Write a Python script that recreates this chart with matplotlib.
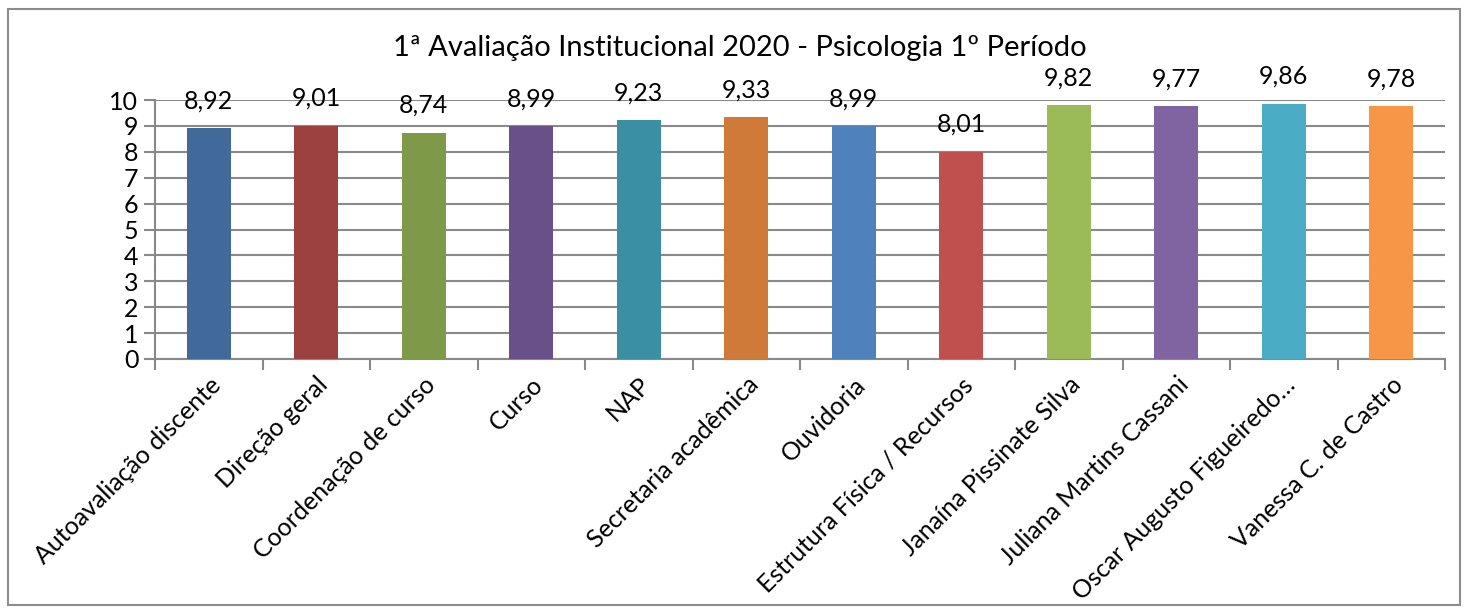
import matplotlib
matplotlib.use('Agg')
import matplotlib.pyplot as plt
from matplotlib.patches import Rectangle

categories = [
    'Autoavaliação discente', 'Direção geral', 'Coordenação de curso', 'Curso',
    'NAP', 'Secretaria acadêmica', 'Ouvidoria', 'Estrutura Física / Recursos',
    'Janaína Pissinate Silva', 'Juliana Martins Cassani',
    'Oscar Augusto Figueiredo…', 'Vanessa C. de Castro',
]
values = [8.92, 9.01, 8.74, 8.99, 9.23, 9.33, 8.99, 8.01, 9.82, 9.77, 9.86, 9.78]
colors = ['#416A9B', '#9D4140', '#7E9A49', '#6A5089', '#3A8FA4', '#CF7A39',
          '#4F81BD', '#C0504D', '#9BBB59', '#8064A2', '#4BACC6', '#F79646']
title = '1ª Avaliação Institucional 2020 - Psicologia 1º Período'

plt.rcParams['font.family'] = ['Lato', 'DejaVu Sans']

fig = plt.figure(figsize=(14.66, 6.12), dpi=100)
ax = fig.add_axes([155 / 1466, 1 - 359 / 612, 1290 / 1466, 259 / 612])

x = list(range(len(categories)))
ax.bar(x, values, width=0.41, color=colors, zorder=3)

for xi, v in zip(x, values):
    ax.annotate(f'{v:.2f}'.replace('.', ','), (xi, v), xytext=(0, 19.5),
                textcoords='offset points', ha='center', va='center',
                fontsize=18, color='black', annotation_clip=False)

ax.set_xlim(-0.5, len(categories) - 0.5)
ax.set_ylim(0, 10)
ax.set_yticks(range(0, 11))
ax.tick_params(axis='y', labelsize=18, length=8, width=1.5, color='#898989', pad=4)
ax.yaxis.grid(True, color='#898989', linewidth=1.5, zorder=0)

# category ticks sit between bars, labels at bar centres
ax.set_xticks([i - 0.5 for i in range(len(categories) + 1)])
ax.set_xticklabels([])
ax.set_xticks(x, minor=True)
ax.set_xticklabels(categories, minor=True, rotation=45, ha='right',
                   rotation_mode='anchor', fontsize=18)
ax.tick_params(axis='x', which='major', length=8, width=1.5, color='#898989')
ax.tick_params(axis='x', which='minor', length=0, pad=10)

for side in ['top', 'right']:
    ax.spines[side].set_visible(False)
for side in ['left', 'bottom']:
    ax.spines[side].set_color('#898989')
    ax.spines[side].set_linewidth(1.5)

fig.text(740 / 1466, 1 - 48 / 612, title, ha='center', va='center', fontsize=21)

fig.patches.append(Rectangle((8 / 1466, 7 / 612), 1452 / 1466, 596 / 612,
                             transform=fig.transFigure, fill=False,
                             edgecolor='#8c8c8c', linewidth=1.5))

plt.savefig('out.png', dpi=100)
plt.close()
